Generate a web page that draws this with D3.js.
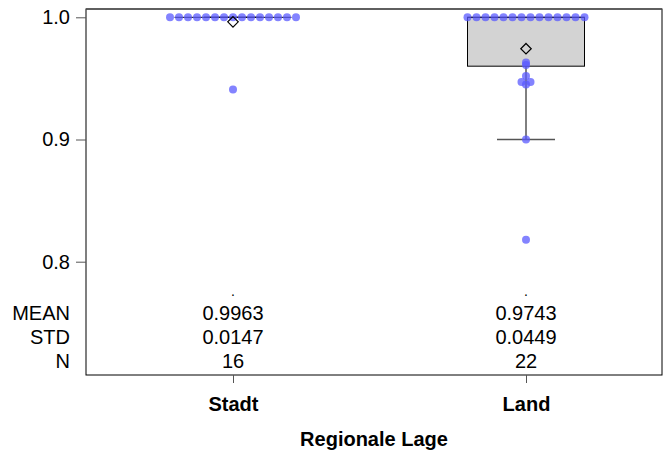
<!DOCTYPE html>
<html>
<head>
<meta charset="utf-8">
<script src="https://cdn.jsdelivr.net/npm/d3@7"></script>
<style>
  html, body { margin: 0; padding: 0; background: #fff; }
  svg { display: block; }
  text { font-family: Arial, "Liberation Sans", sans-serif; }
</style>
</head>
<body>
<svg id="chart" width="663" height="452"></svg>
<script>
// Groups on the x axis
const categories = ["Stadt", "Land"];

// Observed values per group
const stadtValues = [1, 1, 1, 1, 1, 1, 1, 1, 1, 1, 1, 1, 1, 1, 1, 0.941];
const landValues = [1, 1, 1, 1, 1, 1, 1, 1, 1, 1, 1, 1, 1, 1,
                    0.963, 0.961, 0.952, 0.947, 0.947, 0.945, 0.900, 0.818];

// Box statistics per group: [Stadt, Land]
const boxQ1 = [1.0, 0.96];
const boxMedian = [1.0, 1.0];
const boxQ3 = [1.0, 1.0];
const whiskerLow = [1.0, 0.90];
const whiskerHigh = [1.0, 1.0];
const meanValues = [0.9963, 0.9743];

// Summary table rows
const statLabels = ["MEAN", "STD", "N"];
const statMean = ["0.9963", "0.9743"];
const statStd = ["0.0147", "0.0449"];
const statN = ["16", "22"];

// Y axis ticks
const yTicks = [0.8, 0.9, 1.0];

const svg = d3.select("#chart");
const frame = { left: 86, right: 662, top: 9, bottom: 375 };

const x = d3.scalePoint().domain(categories).range([233, 526]);
const y = d3.scaleLinear().domain([0.8, 1.0]).range([261.7, 17.3]);

const boxW = 117, capW = 58, dotStep = 9, dotR = 4;

// Plot frame
svg.append("rect")
  .attr("x", frame.left).attr("y", frame.top)
  .attr("width", frame.right - frame.left).attr("height", frame.bottom - frame.top)
  .attr("fill", "none").attr("stroke", "#000").attr("stroke-width", 1);
svg.append("line")
  .attr("x1", frame.left).attr("x2", frame.right)
  .attr("y1", frame.top).attr("y2", frame.top)
  .attr("stroke", "#555").attr("stroke-width", 1.5);

// Y axis
const yAxis = d3.axisLeft(y).tickValues(yTicks).tickFormat(d3.format(".1f")).tickSize(10).tickPadding(6);
const yg = svg.append("g").attr("transform", `translate(${frame.left},0)`).call(yAxis);
yg.select(".domain").remove();
yg.selectAll(".tick line").attr("stroke", "#555");
yg.selectAll(".tick text").attr("font-size", 20).attr("fill", "#000")
  .attr("font-family", "Arial, 'Liberation Sans', sans-serif");

// X axis
const xAxis = d3.axisBottom(x).tickSize(8).tickPadding(14);
const xg = svg.append("g").attr("transform", `translate(0,${frame.bottom})`).call(xAxis);
xg.select(".domain").remove();
xg.selectAll(".tick line").attr("stroke", "#555");
xg.selectAll(".tick text").attr("font-size", 20).attr("font-weight", "bold").attr("fill", "#000")
  .attr("font-family", "Arial, 'Liberation Sans', sans-serif");

svg.append("text")
  .attr("x", 374).attr("y", 446)
  .attr("text-anchor", "middle").attr("font-size", 20).attr("font-weight", "bold")
  .text("Regionale Lage");

// Boxes and whiskers
categories.forEach((c, i) => {
  const cx = x(c);
  const g = svg.append("g");
  g.append("line").attr("x1", cx).attr("x2", cx)
    .attr("y1", y(boxQ1[i])).attr("y2", y(whiskerLow[i])).attr("stroke", "#000");
  g.append("line").attr("x1", cx).attr("x2", cx)
    .attr("y1", y(boxQ3[i])).attr("y2", y(whiskerHigh[i])).attr("stroke", "#000");
  g.append("line").attr("x1", cx - capW / 2).attr("x2", cx + capW / 2)
    .attr("y1", y(whiskerLow[i])).attr("y2", y(whiskerLow[i]))
    .attr("stroke", "#555").attr("stroke-width", 1.5);
  g.append("rect")
    .attr("x", cx - boxW / 2).attr("width", boxW)
    .attr("y", y(boxQ3[i])).attr("height", y(boxQ1[i]) - y(boxQ3[i]))
    .attr("fill", "#d3d3d3").attr("stroke", "#000").attr("stroke-width", 1);
  g.append("line").attr("x1", cx - boxW / 2).attr("x2", cx + boxW / 2)
    .attr("y1", y(boxMedian[i])).attr("y2", y(boxMedian[i])).attr("stroke", "#000");
});

// Individual observations: ties are spread sideways
function layoutDots(values, cx) {
  const groups = d3.groups(values, v => v);
  const out = [];
  groups.forEach(([v, arr]) => {
    const n = arr.length;
    arr.forEach((_, k) => out.push({ v, px: cx + (k - (n - 1) / 2) * dotStep }));
  });
  return out;
}
const dots = [
  ...layoutDots(stadtValues, x("Stadt")),
  ...layoutDots(landValues, x("Land"))
];
svg.append("g").selectAll("circle").data(dots).join("circle")
  .attr("cx", d => d.px).attr("cy", d => y(d.v)).attr("r", dotR)
  .attr("fill", "#5a5aff").attr("fill-opacity", 0.75);

// Mean markers
const diamond = d3.symbol().type(d3.symbolDiamond2).size(70);
categories.forEach((c, i) => {
  svg.append("path").attr("d", diamond)
    .attr("transform", `translate(${x(c)},${y(meanValues[i])})`)
    .attr("fill", "none").attr("stroke", "#000").attr("stroke-width", 1.2);
});

// Summary table below the plot area
const rowY = [296, 320, 344, 368];
categories.forEach((c) => {
  svg.append("text").attr("x", x(c)).attr("y", rowY[0])
    .attr("text-anchor", "middle").attr("font-size", 14).text(".");
});
const rows = [statMean, statStd, statN];
statLabels.forEach((lab, r) => {
  svg.append("text").attr("x", 70).attr("y", rowY[r + 1])
    .attr("text-anchor", "end").attr("font-size", 20).text(lab);
  categories.forEach((c, i) => {
    svg.append("text").attr("x", x(c)).attr("y", rowY[r + 1])
      .attr("text-anchor", "middle").attr("font-size", 20).text(rows[r][i]);
  });
});
</script>
</body>
</html>
